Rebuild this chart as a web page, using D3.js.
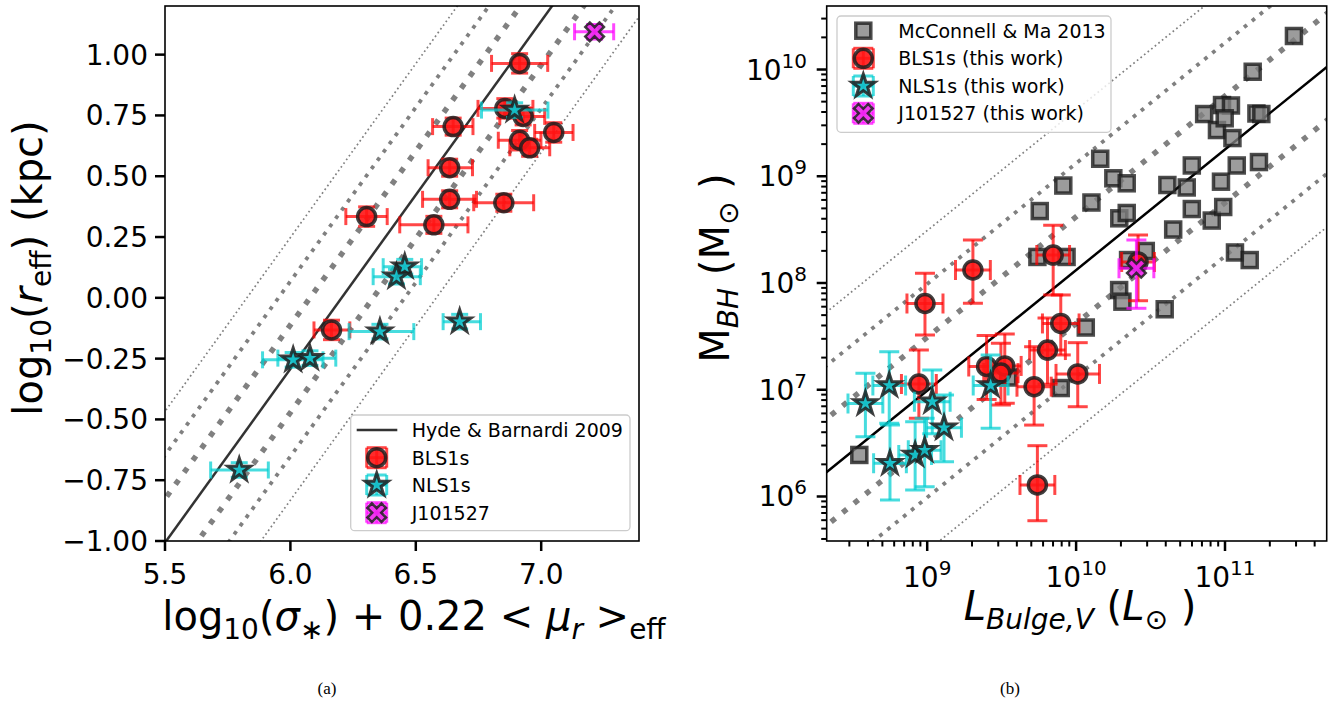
<!DOCTYPE html>
<html><head><meta charset="utf-8">
<script src="https://cdn.jsdelivr.net/npm/d3@7"></script>
<style>
body{margin:0;background:#fff}
svg{display:block}
text{font-family:"DejaVu Sans",sans-serif;white-space:pre}
text.cap{font-family:"Liberation Serif","DejaVu Serif",serif}
</style>
</head><body>
<svg id="c" width="1341" height="705"></svg>
<script>
// ---------------- Panel (a): fundamental-plane projection ----------------
const aBlsX    = [6.914, 6.855, 6.928, 6.649, 7.050, 6.914, 6.954, 6.635, 6.635, 6.851, 6.304, 6.572, 6.164];
const aBlsY    = [0.964, 0.779, 0.746, 0.704, 0.680, 0.648, 0.617, 0.535, 0.405, 0.391, 0.334, 0.300, -0.132];
const aBlsXlo  = [0.112, 0.107, 0.093, 0.082, 0.076, 0.085, 0.079, 0.086, 0.108, 0.120, 0.083, 0.136, 0.070];
const aBlsXhi  = [0.112, 0.112, 0.086, 0.079, 0.077, 0.085, 0.080, 0.091, 0.107, 0.119, 0.082, 0.136, 0.073];
const aBlsYerr = [0.040, 0.040, 0.035, 0.035, 0.040, 0.040, 0.035, 0.035, 0.035, 0.035, 0.040, 0.035, 0.040];

const aNlsX    = [6.894, 6.456, 6.423, 6.357, 6.675, 6.011, 6.078, 5.796];
const aNlsY    = [0.772, 0.128, 0.087, -0.139, -0.098, -0.255, -0.248, -0.708];
const aNlsXlo  = [0.132, 0.086, 0.093, 0.123, 0.066, 0.122, 0.128, 0.114];
const aNlsXhi  = [0.133, 0.067, 0.095, 0.135, 0.083, 0.119, 0.103, 0.116];
const aNlsYerr = [0.030, 0.030, 0.030, 0.030, 0.030, 0.030, 0.030, 0.030];

const aJX = [7.213], aJY = [1.094], aJXlo = [0.080], aJXhi = [0.076], aJYerr = [0.030];

// Hyde & Bernardi 2009 relation and scatter levels
const hbSlope = 1.43, hbIntercept = -8.872, hbScatter = 0.18;
const aXTicks = [5.5, 6.0, 6.5, 7.0];
const aYTicks = [-1.0, -0.75, -0.5, -0.25, 0.0, 0.25, 0.5, 0.75, 1.0];

// ---------------- Panel (b): M_BH - L_bulge (log10 values) ----------------
const mmLogL = [8.544, 9.544, 9.897, 10.065, 10.289, 10.311, 10.595, 9.740, 9.936, 9.756,
                9.914, 10.103, 10.162, 10.250, 10.340, 10.290, 10.340, 10.349, 10.468, 10.613,
                10.743, 10.777, 10.777, 10.652, 10.911, 10.988, 10.973, 11.079, 11.228, 11.067,
                11.166, 10.860, 10.946, 11.050, 10.980, 11.040, 10.998, 11.186, 11.463, 11.211, 11.244];
const mmLogM = [6.389, 7.115, 7.016, 7.583, 7.934, 7.825, 7.754, 8.244, 8.244, 8.674,
                8.913, 8.754, 9.164, 8.981, 8.934, 8.606, 8.656, 8.215, 8.300, 8.918,
                8.895, 9.101, 8.693, 8.501, 8.585, 8.712, 8.949, 9.101, 9.133, 8.286,
                8.215, 9.583, 9.433, 9.358, 9.667, 9.663, 9.543, 9.979, 10.314, 9.588, 9.583];

const bBlsLogL = [8.985, 9.307, 9.846, 8.944, 9.399, 9.521, 9.495, 9.718, 9.808, 9.897, 10.011, 9.740, 10.416];
const bBlsLogM = [7.808, 8.122, 8.262, 7.054, 7.218, 7.223, 7.156, 7.029, 7.372, 7.621, 7.148, 6.108, 8.197];
const bBlsMhi  = [0.283, 0.281, 0.280, 0.318, 0.290, 0.300, 0.280, 0.374, 0.300, 0.267, 0.293, 0.368, 0.253];
const bBlsMlo  = [0.295, 0.312, 0.374, 0.321, 0.310, 0.350, 0.300, 0.360, 0.320, 0.295, 0.307, 0.335, 0.363];
const bBlsLerr = [0.121, 0.117, 0.110, 0.117, 0.120, 0.110, 0.115, 0.115, 0.120, 0.123, 0.146, 0.117, 0.110];

const bNlsLogL = [8.585, 8.745, 8.750, 9.034, 9.113, 8.919, 8.983, 9.426];
const bNlsLogM = [6.871, 7.040, 6.311, 6.888, 6.644, 6.389, 6.433, 7.040];
const bNlsMhi  = [0.283, 0.316, 0.359, 0.297, 0.307, 0.312, 0.300, 0.285];
const bNlsMlo  = [0.311, 0.354, 0.344, 0.300, 0.318, 0.328, 0.341, 0.401];
const bNlsLerr = [0.117, 0.110, 0.110, 0.120, 0.117, 0.110, 0.110, 0.117];

const bJLogL = [10.405], bJLogM = [8.138], bJMhi = [0.265], bJMlo = [0.375], bJLerr = [0.117];

// McConnell & Ma 2013 M-L relation and scatter levels (dex)
const mmSlope = 1.13, mmZero = 9.251, mmPivot = 11, mmScatter = 0.5;
const bXMajor = [9, 10, 11];
const bYMajor = [6, 7, 8, 9, 10];

// ---------------- helpers ----------------
const svg = d3.select('#c');
svg.append('rect').attr('width',1341).attr('height',705).attr('fill','#fff');

function richText(g, x, y, segs, anchor, rotate) {
  const t = g.append('text').attr('x', x).attr('y', y)
    .attr('text-anchor', anchor || 'middle').attr('fill', '#000');
  if (rotate) t.attr('transform', `rotate(${rotate},${x},${y})`);
  let cur = 0;
  segs.forEach(s => {
    const sp = t.append('tspan').text(s.t).attr('font-size', s.s)
      .attr('font-style', s.it ? 'italic' : 'normal');
    const target = s.sh || 0;
    if (target !== cur) sp.attr('dy', target - cur);
    cur = target;
  });
  return t;
}
function starPath(R) {
  const pts = [];
  for (let i = 0; i < 10; i++) {
    const r = i % 2 === 0 ? R : R * 0.382;
    const a = -Math.PI / 2 + i * Math.PI / 5;
    pts.push([r * Math.cos(a), r * Math.sin(a)]);
  }
  return 'M' + pts.map(p => p.join(',')).join('L') + 'Z';
}
function xPath(R) {
  const w = 0.32;
  const base = [[-w,-1],[w,-1],[w,-w],[1,-w],[1,w],[w,w],[w,1],[-w,1],[-w,w],[-1,w],[-1,-w],[-w,-w]];
  const c = Math.SQRT1_2;
  const pts = base.map(([x,y]) => [R*(x*c - y*c), R*(x*c + y*c)]);
  return 'M' + pts.map(p => p.join(',')).join('L') + 'Z';
}
const STY = {
  bls: {bar:'#ff0000', barOp:0.72, fill:'#ff1414', stroke:'#1e1e1e'},
  nls: {bar:'#00ced1', barOp:0.72, fill:'#14bcc6', stroke:'#1e1e1e'},
  j:   {bar:'#ff00ff', barOp:0.72, fill:'#ee22ee', stroke:'#1e1e1e'}
};
function drawMarker(g, kind, x, y) {
  if (kind === 'bls') {
    g.append('circle').attr('cx',x).attr('cy',y).attr('r',9)
      .attr('fill',STY.bls.fill).attr('fill-opacity',0.9)
      .attr('stroke',STY.bls.stroke).attr('stroke-opacity',0.85).attr('stroke-width',3.5);
  } else if (kind === 'nls') {
    g.append('path').attr('d', starPath(12)).attr('transform',`translate(${x},${y})`)
      .attr('fill',STY.nls.fill).attr('fill-opacity',0.9)
      .attr('stroke',STY.nls.stroke).attr('stroke-opacity',0.85).attr('stroke-width',3)
      .attr('stroke-linejoin','miter');
  } else if (kind === 'j') {
    g.append('path').attr('d', xPath(10)).attr('transform',`translate(${x},${y})`)
      .attr('fill',STY.j.fill).attr('fill-opacity',0.9)
      .attr('stroke',STY.j.stroke).attr('stroke-opacity',0.85).attr('stroke-width',2.5);
  } else if (kind === 'mm') {
    g.append('rect').attr('x',x-7.5).attr('y',y-7.5).attr('width',15).attr('height',15)
      .attr('fill','#808080').attr('fill-opacity',0.78)
      .attr('stroke','#1a1a1a').attr('stroke-opacity',0.78).attr('stroke-width',3.5);
  }
}
function drawBars(g, kind, pts, cap) {
  const st = STY[kind];
  const bg = g.append('g').attr('stroke', st.bar).attr('stroke-opacity', st.barOp)
    .attr('stroke-width', 3).attr('fill','none');
  pts.forEach(p => {
    bg.append('line').attr('x1',p.x0).attr('x2',p.x1).attr('y1',p.y).attr('y2',p.y);
    bg.append('line').attr('x1',p.x).attr('x2',p.x).attr('y1',p.y0).attr('y2',p.y1);
    [p.x0, p.x1].forEach(xx => bg.append('line').attr('x1',xx).attr('x2',xx).attr('y1',p.y-cap).attr('y2',p.y+cap));
    [p.y0, p.y1].forEach(yy => bg.append('line').attr('x1',p.x-cap).attr('x2',p.x+cap).attr('y1',yy).attr('y2',yy));
  });
}
const lineStyles = [
  {w:1.7, dash:'1.7 2.9'},   // 3 sigma
  {w:3.8, dash:'3.8 6.4'},   // 2 sigma
  {w:5.5, dash:'5.5 9.3'}    // 1 sigma
];

// ---------------- Panel (a) ----------------
const ax = d3.scaleLinear().domain([5.5, 7.39]).range([165, 639]);
const ay = d3.scaleLinear().domain([-1.0, 1.2]).range([541, 6]);
const gA = svg.append('g');
svg.append('clipPath').attr('id','clipA').append('rect')
  .attr('x',165).attr('y',6).attr('width',474).attr('height',535);
const pA = gA.append('g').attr('clip-path','url(#clipA)');
const aLine = d3.line().x(d => ax(d[0])).y(d => ay(d[1]));
const aXs = [5.3, 7.6];
[3,2,1].forEach((k, idx) => {
  [-1, 1].forEach(sgn => {
    pA.append('path').attr('d', aLine(aXs.map(x => [x, hbSlope*x + hbIntercept + sgn*k*hbScatter])))
      .attr('fill','none').attr('stroke','#808080')
      .attr('stroke-width', lineStyles[idx].w).attr('stroke-dasharray', lineStyles[idx].dash);
  });
});
pA.append('path').attr('d', aLine(aXs.map(x => [x, hbSlope*x + hbIntercept])))
  .attr('fill','none').attr('stroke','#333').attr('stroke-width',2.5);

function aPts(X, Y, Xlo, Xhi, Yerr) {
  return X.map((x, i) => ({x: ax(x), y: ay(Y[i]), x0: ax(x - Xlo[i]), x1: ax(x + Xhi[i]),
    y0: ay(Y[i] + Yerr[i]), y1: ay(Y[i] - Yerr[i])}));
}
const aB = aPts(aBlsX, aBlsY, aBlsXlo, aBlsXhi, aBlsYerr);
drawBars(pA, 'bls', aB, 8.5); aB.forEach(p => drawMarker(pA, 'bls', p.x, p.y));
const aN = aPts(aNlsX, aNlsY, aNlsXlo, aNlsXhi, aNlsYerr);
drawBars(pA, 'nls', aN, 8.5); aN.forEach(p => drawMarker(pA, 'nls', p.x, p.y));
const aJ = aPts(aJX, aJY, aJXlo, aJXhi, aJYerr);
drawBars(pA, 'j', aJ, 8.5); aJ.forEach(p => drawMarker(pA, 'j', p.x, p.y));

// axes a
gA.append('rect').attr('x',165).attr('y',6).attr('width',474).attr('height',535)
  .attr('fill','none').attr('stroke','#000').attr('stroke-width',1.6);
aYTicks.forEach(v => {
  gA.append('line').attr('x1',155).attr('x2',165).attr('y1',ay(v)).attr('y2',ay(v))
    .attr('stroke','#000').attr('stroke-width',2.5);
  gA.append('text').attr('x',148).attr('y',ay(v)+10).attr('text-anchor','end')
    .attr('font-size',28).text(d3.format('.2f')(v).replace('-', '\u2212'));
});
aXTicks.forEach(v => {
  gA.append('line').attr('x1',ax(v)).attr('x2',ax(v)).attr('y1',541).attr('y2',551)
    .attr('stroke','#000').attr('stroke-width',2.5);
  gA.append('text').attr('x',ax(v)).attr('y',584).attr('text-anchor','middle')
    .attr('font-size',28).text(d3.format('.1f')(v));
});
richText(gA, 414, 630, [
  {t:'log',s:40},{t:'10',s:28,sh:9},{t:'(',s:40},{t:'σ',s:40,it:1},{t:'∗',s:28,sh:9},
  {t:') + 0.22 < ',s:40},{t:'μ',s:40,it:1},{t:'r',s:28,it:1,sh:9},{t:' >',s:40},{t:'eff',s:28,sh:9}
], 'middle');
richText(gA, 42, 268, [
  {t:'log',s:40},{t:'10',s:28,sh:9},{t:'(',s:40},{t:'r',s:40,it:1},{t:'eff',s:28,sh:9},{t:') (kpc)',s:40}
], 'middle', -90);

// legend a
const lgA = gA.append('g');
lgA.append('rect').attr('x',350.7).attr('y',415).attr('width',279.3).attr('height',115.7).attr('rx',4)
  .attr('fill','#fff').attr('fill-opacity',0.8).attr('stroke','#cccccc').attr('stroke-width',1.3);
const legA = [{k:'line',t:'Hyde & Barnardi 2009'},{k:'bls',t:'BLS1s'},{k:'nls',t:'NLS1s'},{k:'j',t:'J101527'}];
const legAy = [430, 457.7, 485, 512.7];
legA.forEach((e, i) => {
  const y = legAy[i], x = 376.7;
  if (e.k === 'line') {
    lgA.append('line').attr('x1',356.7).attr('x2',397.3).attr('y1',y).attr('y2',y)
      .attr('stroke','#333').attr('stroke-width',2.5);
  } else {
    drawBars(lgA, e.k, [{x:x,y:y,x0:x-10,x1:x+10,y0:y-10,y1:y+10}], 10);
    drawMarker(lgA, e.k, x, y);
  }
  lgA.append('text').attr('x',411.7).attr('y',y+7).attr('font-size',19).text(e.t);
});

// ---------------- Panel (b) ----------------
const bx = d3.scaleLog().domain([Math.pow(10,8.325), Math.pow(10,11.683)]).range([826.7, 1326.7]);
const by = d3.scaleLog().domain([Math.pow(10,5.583), Math.pow(10,10.595)]).range([541, 6]);
const gB = svg.append('g');
svg.append('clipPath').attr('id','clipB').append('rect')
  .attr('x',826.7).attr('y',6).attr('width',500).attr('height',535);
const pB = gB.append('g').attr('clip-path','url(#clipB)');
const bLine = d3.line().x(d => bx(Math.pow(10,d[0]))).y(d => by(Math.pow(10,d[1])));
const bXs = [8.2, 11.8];
const mmRel = l => mmZero + mmSlope*(l - mmPivot);
[3,2,1].forEach((k, idx) => {
  [-1, 1].forEach(sgn => {
    pB.append('path').attr('d', bLine(bXs.map(l => [l, mmRel(l) + sgn*k*mmScatter])))
      .attr('fill','none').attr('stroke','#808080')
      .attr('stroke-width', lineStyles[idx].w).attr('stroke-dasharray', lineStyles[idx].dash);
  });
});
pB.append('path').attr('d', bLine(bXs.map(l => [l, mmRel(l)])))
  .attr('fill','none').attr('stroke','#000').attr('stroke-width',2.5);

mmLogL.forEach((l, i) => drawMarker(pB, 'mm', bx(Math.pow(10,l)), by(Math.pow(10,mmLogM[i]))));
function bPts(L, M, Mhi, Mlo, Lerr) {
  return L.map((l, i) => ({x: bx(Math.pow(10,l)), y: by(Math.pow(10,M[i])),
    x0: bx(Math.pow(10,l - Lerr[i])), x1: bx(Math.pow(10,l + Lerr[i])),
    y0: by(Math.pow(10,M[i] + Mhi[i])), y1: by(Math.pow(10,M[i] - Mlo[i]))}));
}
const bB = bPts(bBlsLogL, bBlsLogM, bBlsMhi, bBlsMlo, bBlsLerr);
drawBars(pB, 'bls', bB, 10); bB.forEach(p => drawMarker(pB, 'bls', p.x, p.y));
const bN = bPts(bNlsLogL, bNlsLogM, bNlsMhi, bNlsMlo, bNlsLerr);
drawBars(pB, 'nls', bN, 10); bN.forEach(p => drawMarker(pB, 'nls', p.x, p.y));
const bJ = bPts(bJLogL, bJLogM, bJMhi, bJMlo, bJLerr);
drawBars(pB, 'j', bJ, 10); bJ.forEach(p => drawMarker(pB, 'j', p.x, p.y));

// axes b
gB.append('rect').attr('x',826.7).attr('y',6).attr('width',500).attr('height',535)
  .attr('fill','none').attr('stroke','#000').attr('stroke-width',1.6);
function logMinor(scale) {
  const [a, b] = scale.domain();
  const out = [];
  for (let d = Math.floor(Math.log10(a)); d <= Math.ceil(Math.log10(b)); d++)
    for (let m = 2; m <= 9; m++) { const v = m*Math.pow(10,d); if (v >= a && v <= b) out.push(v); }
  return out;
}
logMinor(bx).forEach(v => gB.append('line').attr('x1',bx(v)).attr('x2',bx(v)).attr('y1',541).attr('y2',546.5)
  .attr('stroke','#000').attr('stroke-width',2));
logMinor(by).forEach(v => gB.append('line').attr('x1',821.2).attr('x2',826.7).attr('y1',by(v)).attr('y2',by(v))
  .attr('stroke','#000').attr('stroke-width',2));
bXMajor.forEach(e => {
  const px = bx(Math.pow(10,e));
  gB.append('line').attr('x1',px).attr('x2',px).attr('y1',541).attr('y2',551).attr('stroke','#000').attr('stroke-width',2.5);
  richText(gB, px, 587, [{t:'10',s:28},{t:String(e),s:20,sh:-12}], 'middle');
});
bYMajor.forEach(e => {
  const py = by(Math.pow(10,e));
  gB.append('line').attr('x1',816.7).attr('x2',826.7).attr('y1',py).attr('y2',py).attr('stroke','#000').attr('stroke-width',2.5);
  richText(gB, 807, py+10, [{t:'10',s:28},{t:String(e),s:20,sh:-12}], 'end');
});
richText(gB, 1080, 620, [
  {t:'L',s:40,it:1},{t:'Bulge,V',s:28,it:1,sh:9},{t:' (',s:40},{t:'L',s:40,it:1},{t:'⊙',s:28,sh:9},{t:' )',s:40}
], 'middle');
richText(gB, 729, 268, [
  {t:'M',s:40},{t:'BH',s:28,it:1,sh:9},{t:' (M',s:40},{t:'⊙',s:28,sh:9},{t:' )',s:40}
], 'middle', -90);

// legend b
const lgB = gB.append('g');
lgB.append('rect').attr('x',837).attr('y',16).attr('width',274).attr('height',116.3).attr('rx',4)
  .attr('fill','#fff').attr('fill-opacity',0.8).attr('stroke','#cccccc').attr('stroke-width',1.3);
const legB = [{k:'mm',t:'McConnell & Ma 2013'},{k:'bls',t:'BLS1s (this work)'},{k:'nls',t:'NLS1s (this work)'},{k:'j',t:'J101527 (this work)'}];
const legBy = [30.7, 58.3, 86, 113.3];
legB.forEach((e, i) => {
  const y = legBy[i], x = 863.3;
  if (e.k !== 'mm') drawBars(lgB, e.k, [{x:x,y:y,x0:x-10,x1:x+10,y0:y-10,y1:y+10}], 10);
  drawMarker(lgB, e.k, x, y);
  lgB.append('text').attr('x',898.3).attr('y',y+7).attr('font-size',19).text(e.t);
});

// captions
svg.append('text').attr('class','cap').attr('x',327).attr('y',694).attr('text-anchor','middle')
  .attr('font-size',17).text('(a)');
svg.append('text').attr('class','cap').attr('x',1010).attr('y',694).attr('text-anchor','middle')
  .attr('font-size',17).text('(b)');
</script>
</body></html>
